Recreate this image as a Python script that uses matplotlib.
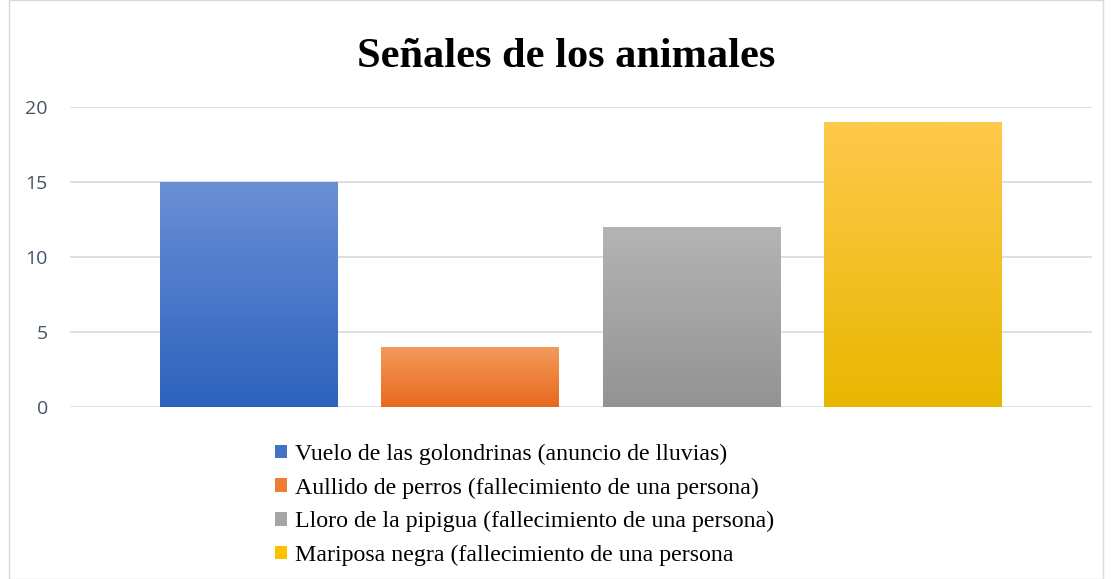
import matplotlib
matplotlib.use("Agg")
import matplotlib.pyplot as plt
import numpy as np
from matplotlib.patches import Patch, Rectangle
from matplotlib.colors import LinearSegmentedColormap

# data
labels = ["Vuelo de las golondrinas (anuncio de lluvias)",
          "Aullido de perros (fallecimiento de una persona)",
          "Lloro de la pipigua (fallecimiento de una persona)",
          "Mariposa negra (fallecimiento de una persona"]
values = [15, 4, 12, 19]
# gradient colours top -> bottom
top_colors = ["#6a8fd6", "#f49a5c", "#b4b4b4", "#ffc94c"]
bottom_colors = ["#2d62bd", "#e8691c", "#939393", "#e8b700"]
legend_colors = ["#4472c4", "#ed7d31", "#a5a5a5", "#ffc000"]
yticks = [0, 5, 10, 15, 20]

fig = plt.figure(figsize=(11.12, 5.79), dpi=100)
ax = fig.add_axes([70/1112, 1 - 407/579, 1022/1112, 300/579])

x = np.arange(len(values))
width = 0.8
grad = np.linspace(0, 1, 256).reshape(-1, 1)
for i, v in enumerate(values):
    cmap = LinearSegmentedColormap.from_list("g%d" % i, [bottom_colors[i], top_colors[i]])
    left = x[i] - width/2
    bar = ax.bar(x[i], v, width=width, color="none", zorder=3)[0]
    im = ax.imshow(grad, cmap=cmap, aspect="auto", origin="lower",
                   extent=[left, left + width, 0, v], zorder=3)
    im.set_clip_path(bar)

ax.set_xlim(-0.806, 3.808)
ax.set_ylim(0, 20)
ax.set_yticks(yticks)
ax.set_xticks([])
ax.grid(axis="y", color="#d9dde3", linewidth=1.3, zorder=0)
for s in ax.spines.values():
    s.set_visible(False)
ax.tick_params(axis="y", length=0, pad=16, labelsize=14, labelcolor="#44546a")
for t in ax.get_yticklabels():
    t.set_fontfamily("Open Sans")

fig.text(566/1112, 1 - 57/579, "Señales de los animales", ha="center", va="center",
         fontsize=30.5, fontweight="bold", family="Liberation Serif")

handles = [Patch(facecolor=c, edgecolor="none") for c in legend_colors]
fig.legend(handles, labels, loc="upper left", bbox_to_anchor=(263/1112, 1 - 432/579),
           frameon=False, prop={"family": "Liberation Serif", "size": 17.2},
           handlelength=0.5, handleheight=0.5, handletextpad=0.35, labelspacing=0.52,
           borderpad=0)

fig.patches.append(Rectangle((9/1112, 0), 1 - 18/1112, 1, transform=fig.transFigure,
                             fill=False, edgecolor="#d9d9d9", linewidth=1))

fig.savefig("out.png", dpi=100)
